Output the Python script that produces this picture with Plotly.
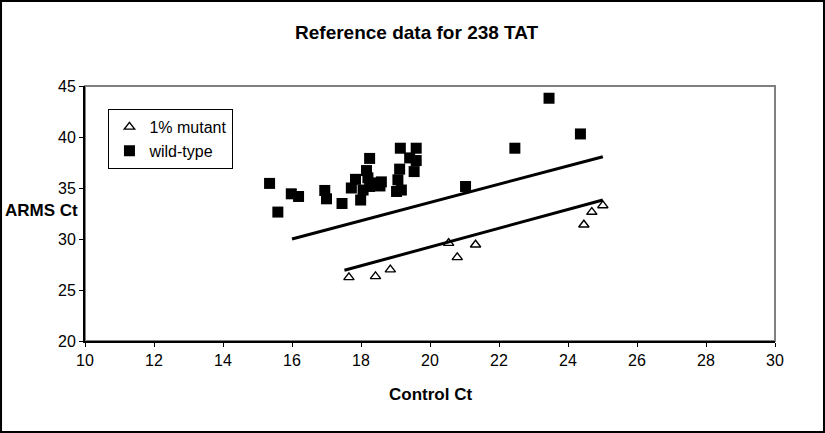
import plotly.graph_objects as go

# Wild-type points (Control Ct, ARMS Ct)
wt_x = [15.35, 15.59, 15.98, 16.19, 16.95, 17.00, 17.45, 17.72, 17.84, 17.99, 18.06,
        18.16, 18.20, 18.25, 18.25, 18.40, 18.59, 18.55, 19.03, 19.07, 19.12, 19.17,
        19.14, 19.41, 19.54, 19.60, 19.60, 21.03, 22.46, 23.45, 24.36]
wt_y = [35.45, 32.64, 34.43, 34.17, 34.76, 33.94, 33.48, 35.00, 35.85, 33.82, 34.80,
        36.71, 36.00, 37.90, 35.15, 35.50, 35.60, 35.20, 34.66, 35.80, 36.85, 34.80,
        38.90, 37.95, 36.61, 38.90, 37.69, 35.15, 38.90, 43.80, 40.30]

# 1% mutant points
mut_x = [17.65, 18.42, 18.85, 20.54, 20.79, 21.32, 24.46, 24.69, 25.01]
mut_y = [26.24, 26.34, 27.00, 29.60, 28.20, 29.44, 31.40, 32.64, 33.29]

# Reference lines
upper_x = [16.0, 25.01]
upper_y = [30.0, 38.07]
lower_x = [17.52, 25.01]
lower_y = [26.93, 33.83]

x_ticks = [10, 12, 14, 16, 18, 20, 22, 24, 26, 28, 30]
y_ticks = [20, 25, 30, 35, 40, 45]

FONT = "Liberation Sans, Arial, sans-serif"

fig = go.Figure()
fig.add_trace(go.Scatter(x=upper_x, y=upper_y, mode="lines",
                         line=dict(color="black", width=3), showlegend=False, hoverinfo="skip"))
fig.add_trace(go.Scatter(x=lower_x, y=lower_y, mode="lines",
                         line=dict(color="black", width=3), showlegend=False, hoverinfo="skip"))
fig.add_trace(go.Scatter(x=mut_x, y=mut_y, mode="markers", name="1% mutant",
                         marker=dict(symbol="triangle-up-open", size=9, color="black",
                                     line=dict(color="black", width=1.4))))
fig.add_trace(go.Scatter(x=wt_x, y=wt_y, mode="markers", name="wild-type",
                         marker=dict(symbol="square", size=11, color="black")))

axis_common = dict(showgrid=False, zeroline=False, showline=True, linecolor="black",
                   linewidth=2, ticks="outside", ticklen=4, tickwidth=1, tickcolor="black",
                   tickfont=dict(family=FONT, size=16, color="black"))

fig.update_layout(
    width=825, height=433,
    margin=dict(l=85, r=50, t=86, b=92, autoexpand=False),
    paper_bgcolor="white", plot_bgcolor="white",
    title=dict(text="<b>Reference data for 238 TAT</b>", x=0.505, xanchor="center",
               y=0.926, yanchor="middle",
               font=dict(family=FONT, size=19, color="black")),
    xaxis=dict(range=[10, 30], tickvals=x_ticks, **axis_common),
    yaxis=dict(range=[20, 45], tickvals=y_ticks, **axis_common),
    legend=dict(x=0.034, y=0.91, xanchor="left", yanchor="top",
                bordercolor="black", borderwidth=1, bgcolor="white",
                font=dict(family=FONT, size=16, color="black"),
                itemwidth=30, tracegroupgap=0),
    showlegend=True,
    annotations=[
        dict(text="<b>ARMS Ct</b>", xref="paper", yref="paper", x=-0.119, y=0.511,
             xanchor="left", yanchor="middle", showarrow=False,
             font=dict(family=FONT, size=17, color="black")),
        dict(text="<b>Control Ct</b>", xref="paper", yref="paper", x=0.5, y=-0.209,
             xanchor="center", yanchor="middle", showarrow=False,
             font=dict(family=FONT, size=17, color="black")),
    ],
    shapes=[
        dict(type="rect", xref="paper", yref="paper", x0=0, x1=1, y0=0, y1=1,
             line=dict(color="#808080", width=2), layer="below"),
        dict(type="rect", xref="paper", yref="paper", x0=-0.1217, x1=1.0710,
             y0=-0.3569, y1=1.3333, line=dict(color="black", width=2)),
    ],
)

fig.write_html("out.html", config={"displayModeBar": False},
               post_script="document.body.style.margin='0';")
